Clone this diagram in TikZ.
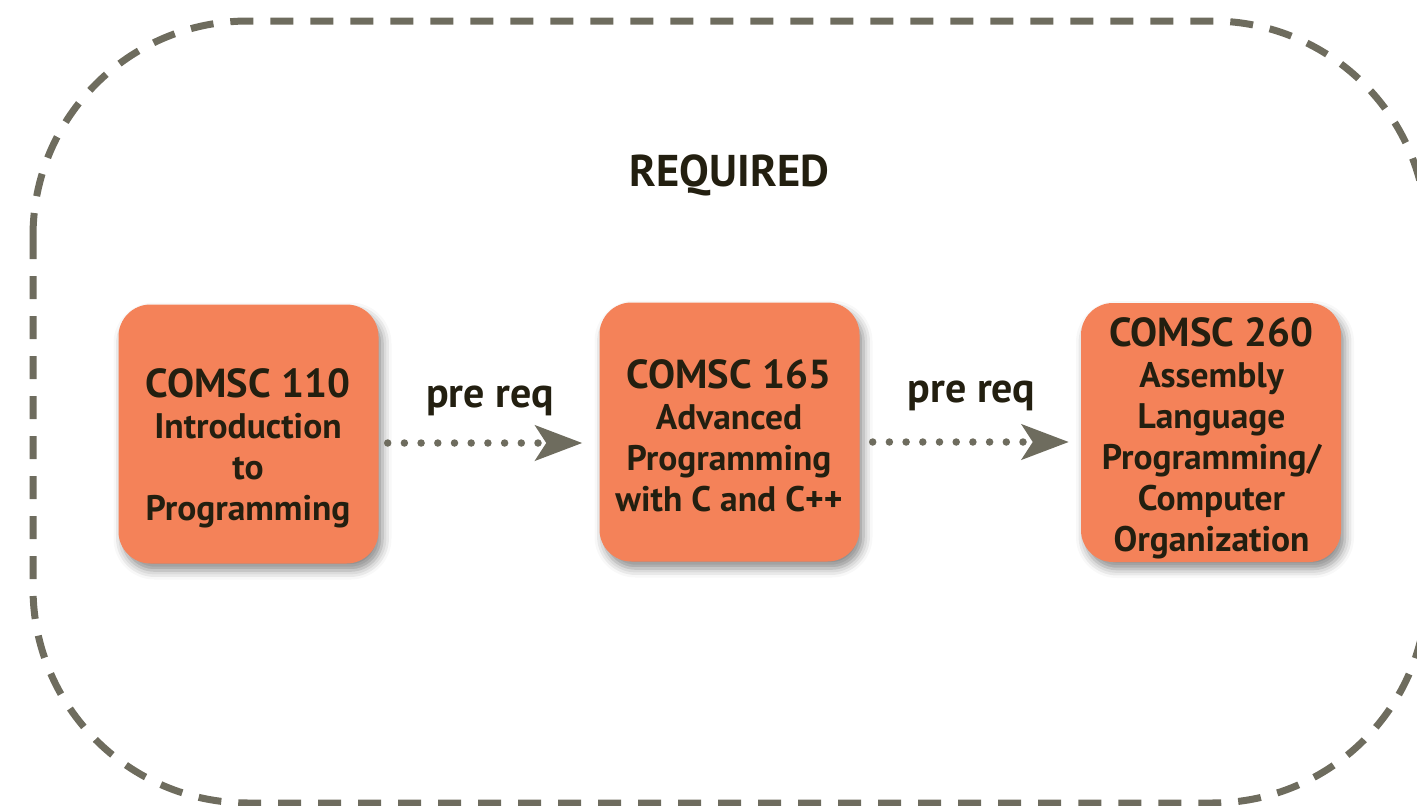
\documentclass[tikz,border=0pt]{standalone}
\usepackage{fontspec}
\setmainfont{PT Sans}
\usetikzlibrary{arrows.meta,shadows.blur}
\definecolor{boxorange}{HTML}{F48259}
\definecolor{linegray}{HTML}{6E6C5E}
\definecolor{inkdark}{HTML}{231F10}
\newcommand{\codeline}[1]{{\bfseries\fontsize{40.5}{41}\selectfont #1}}
\tikzset{
  coursebox/.style={draw=none, fill=boxorange, rounded corners=32pt,
    minimum width=260pt, minimum height=259pt, inner sep=0pt,
    blur shadow={shadow xshift=4pt, shadow yshift=-7pt, shadow blur radius=9pt, shadow opacity=45}},
  coursetext/.style={anchor=north, align=center, inner sep=0pt, text=inkdark,
    font=\bfseries\fontsize{35.5}{41}\selectfont},
  titletext/.style={text=inkdark, inner sep=0pt, font=\bfseries\fontsize{44.5}{52}\selectfont},
  reqtext/.style={text=inkdark, inner sep=0pt, anchor=base, font=\bfseries\fontsize{42}{48}\selectfont},
  prearrow/.style={draw=linegray, line width=7.5pt, line cap=round,
    dash pattern=on 0pt off 16.7pt,
    -{Stealth[length=47pt, width=35pt, inset=11pt, fill=linegray]}},
  frame/.style={draw=linegray, line width=7pt, dash pattern=on 23pt off 17pt, rounded corners=215pt}
}
\begin{document}
\begin{tikzpicture}[x=1pt,y=-1pt]
\useasboundingbox (0,0) rectangle (1417,806);
\draw[frame] (33,21) rectangle (1427,803);

\node[titletext, anchor=base] (title) at (729.5,186) {REQUIRED};

\node[coursebox] (b1) at (248.5,434) {};
\node[coursebox] (b2) at (729.5,432) {};
\node[coursebox] (b3) at (1211,432.5) {};

\node[coursetext] (t1) at (248,368.5) {\codeline{COMSC 110}\\Introduction\\to\\Programming};
\node[coursetext] (t2) at (729,359.5) {\codeline{COMSC 165}\\Advanced\\Programming\\with C and C++};
\node[coursetext] (t3) at (1211.5,317.5) {\codeline{COMSC 260}\\Assembly\\Language\\Programming/\\Computer\\Organization};

\node[reqtext] (p1) at (490,407) {pre req};
\node[reqtext] (p2) at (971.5,402) {pre req};

\draw[prearrow, shorten <=9pt, shorten >=17pt] ([yshift=-9pt]b1.east) -- ([yshift=-11pt]b2.west);
\draw[prearrow, shorten <=13pt, shorten >=12pt] ([yshift=-10pt]b2.east) -- ([yshift=-9.5pt]b3.west);
\end{tikzpicture}
\end{document}
